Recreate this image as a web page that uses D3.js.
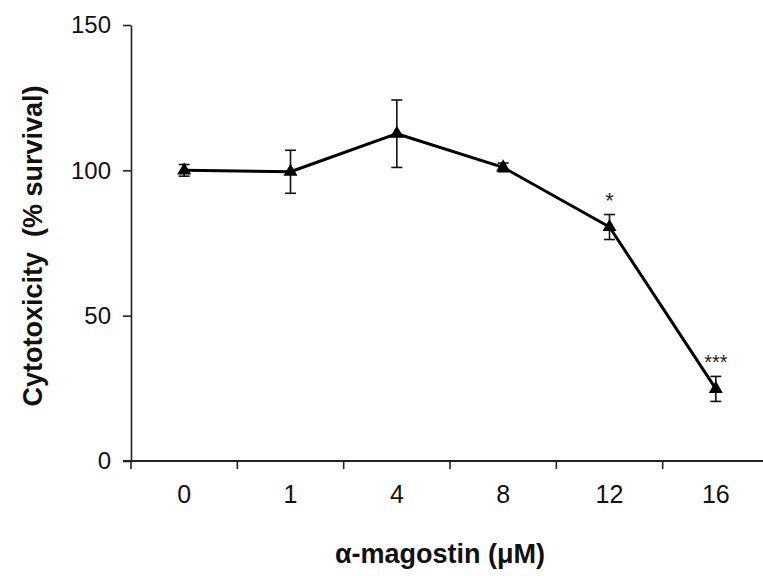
<!DOCTYPE html>
<html>
<head>
<meta charset="utf-8">
<script src="https://cdn.jsdelivr.net/npm/d3@7"></script>
<style>
  body { margin: 0; background: #fff; }
  svg { display: block; font-family: "Liberation Sans", Arial, sans-serif; }
</style>
</head>
<body>
<svg id="chart" width="763" height="576"></svg>
<script>
const categories = ["0", "1", "4", "8", "12", "16"];
const means = [100, 99.5, 112.6, 101, 80.5, 24.8];
const errors = [2, 7.4, 11.6, 1.5, 4.3, 4.3];
const significance = ["", "", "", "", "*", "***"];
const yTicks = [0, 50, 100, 150];

const svg = d3.select("#chart");
const plotLeft = 131, plotRight = 769, plotTop = 25, plotBottom = 461;

const x = d3.scaleBand().domain(categories).range([plotLeft, plotRight]).padding(0);
const y = d3.scaleLinear().domain([0, 150]).range([plotBottom, plotTop]);
const cx = c => x(c) + x.bandwidth() / 2;

// Y axis
const yAxis = svg.append("g")
  .attr("transform", `translate(${plotLeft},0)`)
  .call(d3.axisLeft(y).tickValues(yTicks).tickSize(8).tickPadding(12).tickSizeOuter(0));
yAxis.select(".domain").attr("stroke", "#222").attr("stroke-width", 1.6);
yAxis.selectAll(".tick line").attr("stroke", "#222").attr("stroke-width", 1.6);
yAxis.selectAll(".tick text").attr("font-size", 24).attr("fill", "#111")
  .attr("font-family", "'Liberation Sans', Arial, sans-serif");

// X axis line
svg.append("line")
  .attr("x1", plotLeft - 8).attr("x2", 763)
  .attr("y1", plotBottom).attr("y2", plotBottom)
  .attr("stroke", "#222").attr("stroke-width", 1.8);
// boundary ticks
svg.append("g").selectAll("line")
  .data(categories)
  .join("line")
  .attr("x1", d => x(d)).attr("x2", d => x(d))
  .attr("y1", plotBottom).attr("y2", plotBottom + 8)
  .attr("stroke", "#222").attr("stroke-width", 1.6);
// category labels
svg.append("g").selectAll("text")
  .data(categories)
  .join("text")
  .attr("x", d => cx(d)).attr("y", 503)
  .attr("text-anchor", "middle")
  .attr("font-size", 25).attr("fill", "#111")
  .text(d => d);

// Line
const data = categories.map((c, i) => ({ c, m: means[i], e: errors[i], s: significance[i] }));
svg.append("path")
  .datum(data)
  .attr("fill", "none")
  .attr("stroke", "#000")
  .attr("stroke-width", 3)
  .attr("stroke-linejoin", "round")
  .attr("d", d3.line().x(d => cx(d.c)).y(d => y(d.m)));

// Error bars
const eb = svg.append("g").attr("stroke", "#111").attr("stroke-width", 1.6);
eb.selectAll("line.v").data(data).join("line").attr("class", "v")
  .attr("x1", d => cx(d.c)).attr("x2", d => cx(d.c))
  .attr("y1", d => y(d.m + d.e)).attr("y2", d => y(d.m - d.e));
eb.selectAll("line.t").data(data).join("line").attr("class", "t")
  .attr("x1", d => cx(d.c) - 5.5).attr("x2", d => cx(d.c) + 5.5)
  .attr("y1", d => y(d.m + d.e)).attr("y2", d => y(d.m + d.e));
eb.selectAll("line.b").data(data).join("line").attr("class", "b")
  .attr("x1", d => cx(d.c) - 5.5).attr("x2", d => cx(d.c) + 5.5)
  .attr("y1", d => y(d.m - d.e)).attr("y2", d => y(d.m - d.e));

// Markers
svg.append("g").selectAll("path")
  .data(data)
  .join("path")
  .attr("transform", d => `translate(${cx(d.c)},${y(d.m)})`)
  .attr("d", d3.symbol().type(d3.symbolTriangle).size(85))
  .attr("fill", "#000");

// Significance
svg.append("g").selectAll("text")
  .data(data.filter(d => d.s))
  .join("text")
  .attr("x", d => cx(d.c))
  .attr("y", d => y(d.m + d.e) - 7)
  .attr("text-anchor", "middle")
  .attr("font-size", d => d.s.length > 1 ? 20 : 22)
  .attr("fill", "#222")
  .text(d => d.s);

// Axis titles
svg.append("text")
  .attr("x", 440).attr("y", 563)
  .attr("text-anchor", "middle")
  .attr("font-size", 27).attr("font-weight", "bold").attr("fill", "#111")
  .text("α-magostin (μM)");

svg.append("text")
  .attr("transform", "translate(42,246) rotate(-90)")
  .attr("text-anchor", "middle")
  .attr("font-size", 27).attr("font-weight", "bold").attr("fill", "#111")
  .style("white-space", "pre")
  .text("Cytotoxicity  (% survival)");
</script>
</body>
</html>
